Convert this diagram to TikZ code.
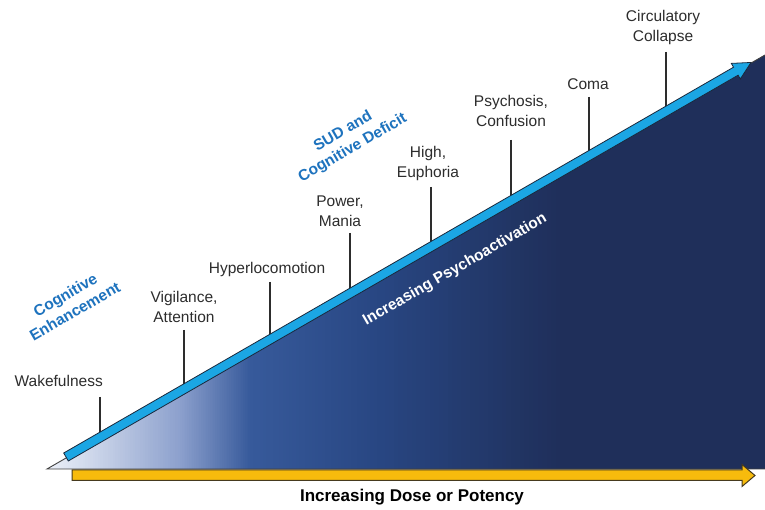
\documentclass[tikz,border=0pt]{standalone}
\usepackage{fontspec}
\setmainfont{Liberation Sans}
\usetikzlibrary{calc}
\definecolor{g0}{RGB}{236,240,248}
\definecolor{g1}{RGB}{214,222,238}
\definecolor{g2}{RGB}{140,160,205}
\definecolor{g3}{RGB}{55,90,155}
\definecolor{g4}{RGB}{40,70,130}
\definecolor{g5}{RGB}{31,47,90}
\definecolor{bandblue}{RGB}{27,166,228}
\definecolor{bandline}{RGB}{25,40,60}
\definecolor{lblue}{RGB}{30,115,190}
\definecolor{gold}{RGB}{247,187,12}
\definecolor{goldline}{RGB}{70,58,30}
\definecolor{txt}{RGB}{45,45,45}
\begin{document}
\begin{tikzpicture}[x=1pt,y=1pt,
  lbl/.style={font=\fontsize{15.5}{20}\selectfont, text=txt, align=center, inner sep=0pt, text depth=0pt, anchor=south},
  tickline/.style={draw=txt, line width=1.3pt},
  bluelbl/.style={font=\bfseries\fontsize{15.5}{19}\selectfont, text=lblue, align=center, rotate=30, inner sep=0pt},
  whitelbl/.style={font=\bfseries\fontsize{15.5}{19}\selectfont, text=white, rotate=30, inner sep=0pt},
  doselbl/.style={font=\bfseries\fontsize{17}{20}\selectfont, text=black, inner sep=0pt},
]
\useasboundingbox (0,0) rectangle (765,510);
\fill[white] (0,0) rectangle (765,510);

% triangle corners
\coordinate (A) at (47,41);
\coordinate (T) at (765,455);
\coordinate (BR) at (765,41);

% gradient fill
\begin{scope}
\clip (A) -- (T) -- (BR) -- cycle;
\foreach \xa/\xb/\ca/\cb in {47/80/g0/g1, 80/180/g1/g2, 180/250/g2/g3, 250/380/g3/g4, 380/560/g4/g5}{
  \foreach \k in {0,...,39}{
    \pgfmathsetmacro\xl{\xa+(\xb-\xa)*\k/40}
    \pgfmathsetmacro\xr{\xa+(\xb-\xa)*(\k+1)/40+0.8}
    \pgfmathsetmacro\mixp{100-100*(\k+0.5)/40}
    \fill[\ca!\mixp!\cb] (\xl,30) rectangle (\xr,470);
  }
}
\fill[g5] (560,30) rectangle (770,470);
\end{scope}
\draw[draw=black!75, line width=0.9pt] (BR) -- (A) -- (T);

% ticks
\coordinate (wt) at (100,113); \coordinate (wb) at (100,71.6);
\coordinate (vt) at (184,180); \coordinate (vb) at (184,120);
\coordinate (ht) at (270,228); \coordinate (hb) at (270,169.6);
\coordinate (pt) at (350,277); \coordinate (pb) at (350,215.7);
\coordinate (et) at (431,323); \coordinate (eb) at (431,262.4);
\coordinate (st) at (511,370); \coordinate (sb) at (511,308.5);
\coordinate (ct) at (589,413); \coordinate (cb) at (589,353.5);
\coordinate (rt) at (666,458); \coordinate (rb) at (666,397.9);
\foreach \t/\b in {wt/wb, vt/vb, ht/hb, pt/pb, et/eb, st/sb, ct/cb, rt/rb}
  \draw[tickline] (\t) -- (\b);

% labels
\node[lbl, anchor=south east] (wake) at (103,123) {Wakefulness};
\node[lbl] (vig) at (184,187) {Vigilance,\\Attention};
\node[lbl] (hyp) at (267,236) {Hyperlocomotion};
\node[lbl] (pow) at (340,283) {Power,\\Mania};
\node[lbl] (high) at (428,332) {High,\\Euphoria};
\node[lbl] (psy) at (511,383) {Psychosis,\\Confusion};
\node[lbl] (coma) at (588,420) {Coma};
\node[lbl] (circ) at (663,468) {Circulatory\\Collapse};

% blue band arrow along the slope
\begin{scope}[shift={(66,53)}, rotate=29.94]
  \filldraw[fill=bandblue, draw=bandline, line width=0.8pt, line join=miter]
    (0,-4.6) -- (773,-4.6) -- (773,-9) -- (790.5,0) -- (773,9) -- (773,4.6) -- (0,4.6) -- cycle;
\end{scope}

% yellow dose arrow
\filldraw[fill=gold, draw=goldline, line width=1pt, line join=miter]
  (72,29.5) -- (742,29.5) -- (742,23.5) -- (755,34.5) -- (742,45.5) -- (742,40) -- (72,40) -- cycle;

% rotated texts
\node[bluelbl] (cog) at (70,207) {Cognitive\\Enhancement};
\node[bluelbl] (sud) at (348,370) {SUD and\\Cognitive Deficit};
\node[whitelbl] (psyact) at (455,240) {Increasing Psychoactivation};
\node[doselbl] (dose) at (412,13) {Increasing Dose or Potency};
\end{tikzpicture}
\end{document}
